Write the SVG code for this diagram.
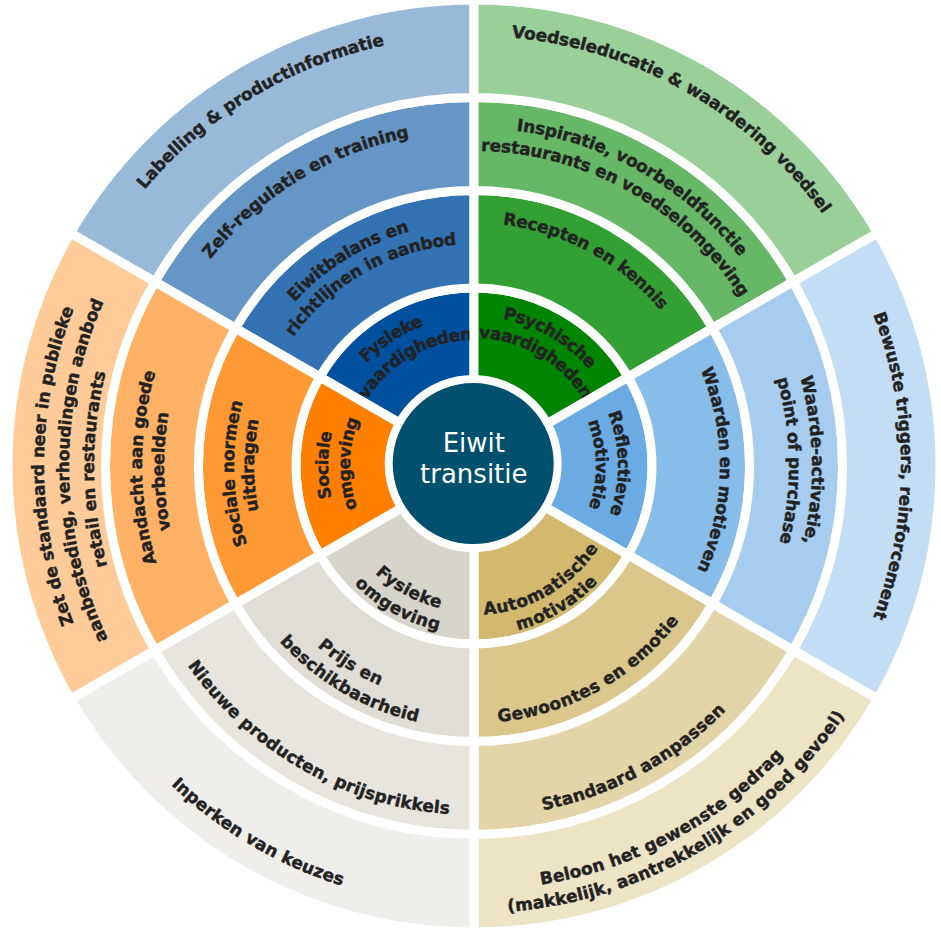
<svg xmlns="http://www.w3.org/2000/svg" width="941" height="937" viewBox="0 0 941 937">
<style>
.seg{stroke:#fff;stroke-width:9;stroke-linejoin:miter}
.lbl{font-family:"DejaVu Sans",Verdana,sans-serif;font-weight:bold;font-size:17px;fill:#222;stroke:#222;stroke-width:0.4;text-anchor:middle;dominant-baseline:central}
.core{font-family:"DejaVu Sans",Verdana,sans-serif;font-size:26px;fill:#fff;text-anchor:middle}
.b1{fill:#0050a0}.b2{fill:#3373b3}.b3{fill:#6696c6}.b4{fill:#99b9d9}
.g1{fill:#008500}.g2{fill:#33a033}.g3{fill:#66b866}.g4{fill:#99cf99}
.l1{fill:#6aabe4}.l2{fill:#88bce9}.l3{fill:#a6cdf0}.l4{fill:#c3ddf4}
.t1{fill:#d2b96e}.t2{fill:#dbc78b}.t3{fill:#e4d5a8}.t4{fill:#ede3c5}
.y1{fill:#d7d4cb}.y2{fill:#dfddd5}.y3{fill:#e7e5de}.y4{fill:#efeeea}
.o1{fill:#ff7f00}.o2{fill:#ff9933}.o3{fill:#ffb266}.o4{fill:#ffcc99}
</style>
<defs>
<path id="cw128" d="M538 355.149A128 128 0 0 1 538 576.851"/>
<path id="cw130" d="M539 353.417A130 130 0 0 1 539 578.583"/>
<path id="cw132" d="M540 351.685A132 132 0 0 1 540 580.315"/>
<path id="cw134" d="M541 349.953A134 134 0 0 1 541 582.047"/>
<path id="cw150" d="M549 336.096A150 150 0 0 1 549 595.904"/>
<path id="cw152" d="M550 334.364A152 152 0 0 1 550 597.636"/>
<path id="cw155" d="M551.5 331.766A155 155 0 0 1 551.5 600.234"/>
<path id="cw156" d="M552 330.904A156 156 0 0 1 552 601.096"/>
<path id="cw226" d="M587 270.278A226 226 0 0 1 587 661.722"/>
<path id="cw228" d="M588 268.546A228 228 0 0 1 588 663.454"/>
<path id="cw246" d="M597 252.958A246 246 0 0 1 597 679.042"/>
<path id="cw249" d="M598.5 250.36A249 249 0 0 1 598.5 681.64"/>
<path id="cw252" d="M600 247.762A252 252 0 0 1 600 684.238"/>
<path id="cw316" d="M632 192.336A316 316 0 0 1 632 739.664"/>
<path id="cw321" d="M634.5 188.006A321 321 0 0 1 634.5 743.994"/>
<path id="cw338" d="M643 173.284A338 338 0 0 1 643 758.716"/>
<path id="cw341" d="M644.5 170.685A341 341 0 0 1 644.5 761.315"/>
<path id="cw344" d="M646 168.087A344 344 0 0 1 646 763.913"/>
<path id="cw386" d="M667 131.714A386 386 0 0 1 667 800.286"/>
<path id="cw411" d="M679.5 110.064A411 411 0 0 1 679.5 821.936"/>
<path id="cw433" d="M690.5 91.011A433 433 0 0 1 690.5 840.989"/>
<path id="cw436" d="M692 88.413A436 436 0 0 1 692 843.587"/>
<path id="ccw140" d="M544 587.244A140 140 0 0 0 544 344.756"/>
<path id="ccw143" d="M545.5 589.842A143 143 0 0 0 545.5 342.158"/>
<path id="ccw162" d="M555 606.296A162 162 0 0 0 555 325.704"/>
<path id="ccw164" d="M556 608.028A164 164 0 0 0 556 323.972"/>
<path id="ccw233" d="M590.5 667.784A233 233 0 0 0 590.5 264.216"/>
<path id="ccw251" d="M599.5 683.372A251 251 0 0 0 599.5 248.628"/>
<path id="ccw256" d="M602 687.702A256 256 0 0 0 602 244.298"/>
<path id="ccw343" d="M645.5 763.047A343 343 0 0 0 645.5 168.953"/>
<path id="ccw345" d="M646.5 764.779A345 345 0 0 0 646.5 167.221"/>
<path id="ccw418" d="M683 827.998A418 418 0 0 0 683 104.002"/>
<path id="ccw434" d="M691 841.855A434 434 0 0 0 691 90.145"/>
<path id="ccw441" d="M694.5 847.917A441 441 0 0 0 694.5 84.083"/>
</defs>
<rect width="941" height="937" fill="#fff"/>
<g id="connectors"/>

<g id="fysieke-vaardigheden">
<path class="seg b1" d="M319.848 377A178 178 0 0 1 474 288L474 386A80 80 0 0 0 404.718 426Z"/>
<text class="lbl" transform="rotate(237 474 466)"><textPath href="#cw155" startOffset="50%">Fysieke</textPath></text>
<text class="lbl" transform="rotate(240.5 474 466)"><textPath href="#cw132" startOffset="50%">vaardigheden</textPath></text>
</g>
<g id="eiwitbalans">
<path class="seg b2" d="M235.41 328.25A275.5 275.5 0 0 1 474 190.5L474 288A178 178 0 0 0 319.848 377Z"/>
<text class="lbl" transform="rotate(238.5 474 466)"><textPath href="#cw249" startOffset="50%">Eiwitbalans en</textPath></text>
<text class="lbl" transform="rotate(240.5 474 466)"><textPath href="#cw228" startOffset="50%">richtlijnen in aanbod</textPath></text>
</g>
<g id="zelf-regulatie">
<path class="seg b3" d="M154.87 281.75A368.5 368.5 0 0 1 474 97.5L474 190.5A275.5 275.5 0 0 0 235.41 328.25Z"/>
<text class="lbl" transform="rotate(238.5 474 466)"><textPath href="#cw341" startOffset="50%">Zelf-regulatie en training</textPath></text>
</g>
<g id="labelling">
<path class="seg b4" d="M70.432 233A466 466 0 0 1 474 0L474 97.5A368.5 368.5 0 0 0 154.87 281.75Z"/>
<text class="lbl" transform="rotate(239 474 466)"><textPath href="#cw436" startOffset="50%">Labelling &amp; productinformatie</textPath></text>
</g>

<g id="psychische-vaardigheden">
<path class="seg g1" d="M474 288A178 178 0 0 1 628.152 377L543.282 426A80 80 0 0 0 474 386Z"/>
<text class="lbl" transform="rotate(300.5 474 466)"><textPath href="#cw156" startOffset="50%">Psychische</textPath></text>
<text class="lbl" transform="rotate(300.5 474 466)"><textPath href="#cw134" startOffset="50%">vaardigheden</textPath></text>
</g>
<g id="recepten">
<path class="seg g2" d="M474 190.5A275.5 275.5 0 0 1 712.59 328.25L628.152 377A178 178 0 0 0 474 288Z"/>
<text class="lbl" transform="rotate(298.5 474 466)"><textPath href="#cw249" startOffset="50%">Recepten en kennis</textPath></text>
</g>
<g id="inspiratie">
<path class="seg g3" d="M474 97.5A368.5 368.5 0 0 1 793.13 281.75L712.59 328.25A275.5 275.5 0 0 0 474 190.5Z"/>
<text class="lbl" transform="rotate(299.5 474 466)"><textPath href="#cw344" startOffset="50%">Inspiratie, voorbeeldfunctie</textPath></text>
<text class="lbl" transform="rotate(299.5 474 466)"><textPath href="#cw321" startOffset="50%">restaurants en voedselomgeving</textPath></text>
</g>
<g id="voedseleducatie">
<path class="seg g4" d="M474 0A466 466 0 0 1 877.568 233L793.13 281.75A368.5 368.5 0 0 0 474 97.5Z"/>
<text class="lbl" transform="rotate(299.6 474 466)"><textPath href="#cw436" startOffset="50%">Voedseleducatie &amp; waardering voedsel</textPath></text>
</g>

<g id="reflectieve-motivatie">
<path class="seg l1" d="M628.152 377A178 178 0 0 1 628.152 555L543.282 506A80 80 0 0 0 543.282 426Z"/>
<text class="lbl" transform="rotate(359 474 466)"><textPath href="#cw150" startOffset="50%">Reflectieve</textPath></text>
<text class="lbl" transform="rotate(359.4 474 466)"><textPath href="#cw128" startOffset="50%">motivatie</textPath></text>
</g>
<g id="waarden">
<path class="seg l2" d="M712.59 328.25A275.5 275.5 0 0 1 712.59 603.75L628.152 555A178 178 0 0 0 628.152 377Z"/>
<text class="lbl" transform="rotate(1 474 466)"><textPath href="#cw252" startOffset="50%">Waarden en motieven</textPath></text>
</g>
<g id="waarde-activatie">
<path class="seg l3" d="M793.13 281.75A368.5 368.5 0 0 1 793.13 650.25L712.59 603.75A275.5 275.5 0 0 0 712.59 328.25Z"/>
<text class="lbl" transform="rotate(359 474 466)"><textPath href="#cw344" startOffset="50%">Waarde-activatie,</textPath></text>
<text class="lbl" transform="rotate(359 474 466)"><textPath href="#cw321" startOffset="50%">point of purchase</textPath></text>
</g>
<g id="bewuste-triggers">
<path class="seg l4" d="M877.568 233A466 466 0 0 1 877.568 699L793.13 650.25A368.5 368.5 0 0 0 793.13 281.75Z"/>
<text class="lbl"><textPath href="#cw433" startOffset="50%">Bewuste triggers, reinforcement</textPath></text>
</g>

<g id="automatische-motivatie">
<path class="seg t1" d="M628.152 555A178 178 0 0 1 474 644L474 546A80 80 0 0 0 543.282 506Z"/>
<text class="lbl" transform="rotate(59.8 474 466)"><textPath href="#ccw143" startOffset="50%">Automatische</textPath></text>
<text class="lbl" transform="rotate(59.1 474 466)"><textPath href="#ccw164" startOffset="50%">motivatie</textPath></text>
</g>
<g id="gewoontes">
<path class="seg t2" d="M712.59 603.75A275.5 275.5 0 0 1 474 741.5L474 644A178 178 0 0 0 628.152 555Z"/>
<text class="lbl" transform="rotate(60.8 474 466)"><textPath href="#ccw251" startOffset="50%">Gewoontes en emotie</textPath></text>
</g>
<g id="standaard">
<path class="seg t3" d="M793.13 650.25A368.5 368.5 0 0 1 474 834.5L474 741.5A275.5 275.5 0 0 0 712.59 603.75Z"/>
<text class="lbl" transform="rotate(61.4 474 466)"><textPath href="#ccw345" startOffset="50%">Standaard aanpassen</textPath></text>
</g>
<g id="beloon">
<path class="seg t4" d="M877.568 699A466 466 0 0 1 474 932L474 834.5A368.5 368.5 0 0 0 793.13 650.25Z"/>
<text class="lbl" transform="rotate(62 474 466)"><textPath href="#ccw418" startOffset="50%">Beloon het gewenste gedrag</textPath></text>
<text class="lbl" transform="rotate(59.8 474 466)"><textPath href="#ccw441" startOffset="50%">(makkelijk, aantrekkelijk en goed gevoel)</textPath></text>
</g>

<g id="fysieke-omgeving">
<path class="seg y1" d="M474 644A178 178 0 0 1 319.848 555L404.718 506A80 80 0 0 0 474 546Z"/>
<text class="lbl" transform="rotate(118.1 474 466)"><textPath href="#ccw140" startOffset="50%">Fysieke</textPath></text>
<text class="lbl" transform="rotate(118.8 474 466)"><textPath href="#ccw162" startOffset="50%">omgeving</textPath></text>
</g>
<g id="prijs">
<path class="seg y2" d="M474 741.5A275.5 275.5 0 0 1 235.41 603.75L319.848 555A178 178 0 0 0 474 644Z"/>
<text class="lbl" transform="rotate(122.1 474 466)"><textPath href="#ccw233" startOffset="50%">Prijs en</textPath></text>
<text class="lbl" transform="rotate(120.2 474 466)"><textPath href="#ccw256" startOffset="50%">beschikbaarheid</textPath></text>
</g>
<g id="nieuwe-producten">
<path class="seg y3" d="M474 834.5A368.5 368.5 0 0 1 154.87 650.25L235.41 603.75A275.5 275.5 0 0 0 474 741.5Z"/>
<text class="lbl" transform="rotate(119.6 474 466)"><textPath href="#ccw343" startOffset="50%">Nieuwe producten, prijsprikkels</textPath></text>
</g>
<g id="inperken">
<path class="seg y4" d="M474 932A466 466 0 0 1 70.432 699L154.87 650.25A368.5 368.5 0 0 0 474 834.5Z"/>
<text class="lbl" transform="rotate(120.5 474 466)"><textPath href="#ccw434" startOffset="50%">Inperken van keuzes</textPath></text>
</g>

<g id="sociale-omgeving">
<path class="seg o1" d="M319.848 555A178 178 0 0 1 319.848 377L404.718 426A80 80 0 0 0 404.718 506Z"/>
<text class="lbl" transform="rotate(180.4 474 466)"><textPath href="#cw152" startOffset="50%">Sociale</textPath></text>
<text class="lbl" transform="rotate(181 474 466)"><textPath href="#cw130" startOffset="50%">omgeving</textPath></text>
</g>
<g id="sociale-normen">
<path class="seg o2" d="M235.41 603.75A275.5 275.5 0 0 1 235.41 328.25L319.848 377A178 178 0 0 0 319.848 555Z"/>
<text class="lbl" transform="rotate(178.2 474 466)"><textPath href="#cw246" startOffset="50%">Sociale normen</textPath></text>
<text class="lbl" transform="rotate(180.2 474 466)"><textPath href="#cw226" startOffset="50%">uitdragen</textPath></text>
</g>
<g id="aandacht">
<path class="seg o3" d="M154.87 650.25A368.5 368.5 0 0 1 154.87 281.75L235.41 328.25A275.5 275.5 0 0 0 235.41 603.75Z"/>
<text class="lbl" transform="rotate(179.7 474 466)"><textPath href="#cw338" startOffset="50%">Aandacht aan goede</textPath></text>
<text class="lbl" transform="rotate(179 474 466)"><textPath href="#cw316" startOffset="50%">voorbeelden</textPath></text>
</g>
<g id="zet-de-standaard">
<path class="seg o4" d="M70.432 699A466 466 0 0 1 70.432 233L154.87 281.75A368.5 368.5 0 0 0 154.87 650.25Z"/>
<text class="lbl" transform="rotate(180 474 466)"><textPath href="#cw436" startOffset="50%">Zet de standaard neer in publieke</textPath></text>
<text class="lbl" transform="rotate(179.3 474 466)"><textPath href="#cw411" startOffset="50%">aanbesteding, verhoudingen aanbod</textPath></text>
<text class="lbl" transform="rotate(179.5 474 466)"><textPath href="#cw386" startOffset="50%">retail en restaurants</textPath></text>
</g>

<g id="eiwit-transitie">
<circle cx="473.2" cy="463.6" r="84.5" fill="#00506e" stroke="#fff" stroke-width="8"/>
<text class="core" x="473.8" y="451.7">Eiwit</text>
<text class="core" x="473.8" y="483.3">transitie</text>
</g>
</svg>
